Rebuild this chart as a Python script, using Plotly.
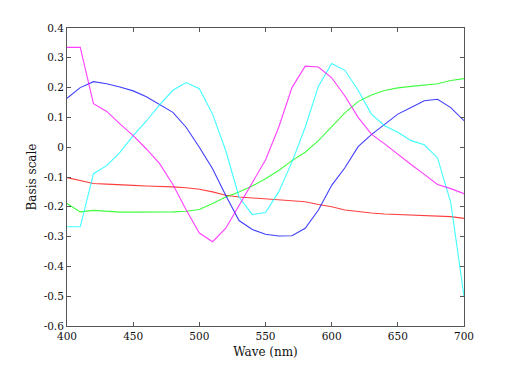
import plotly.graph_objects as go

wave = list(range(400, 701, 10))

red = [-0.102, -0.111, -0.122, -0.124, -0.127, -0.128, -0.130, -0.131, -0.133, -0.136,
       -0.141, -0.150, -0.161, -0.167, -0.170, -0.175, -0.178, -0.180, -0.183, -0.192,
       -0.200, -0.211, -0.217, -0.221, -0.224, -0.226, -0.227, -0.228, -0.230, -0.233, -0.239]

green = [-0.189, -0.217, -0.212, -0.216, -0.218, -0.218, -0.218, -0.218, -0.217, -0.215,
         -0.209, -0.189, -0.167, -0.150, -0.130, -0.106, -0.078, -0.045, -0.017, 0.022,
         0.069, 0.115, 0.153, 0.175, 0.190, 0.199, 0.204, 0.208, 0.213, 0.224, 0.230]

blue = [0.164, 0.200, 0.220, 0.213, 0.202, 0.189, 0.169, 0.144, 0.117, 0.067,
        0.000, -0.072, -0.162, -0.246, -0.276, -0.292, -0.298, -0.297, -0.272, -0.211,
        -0.128, -0.069, 0.002, 0.042, 0.078, 0.111, 0.133, 0.156, 0.161, 0.133, 0.089]

cyan = [-0.267, -0.267, -0.089, -0.062, -0.017, 0.039, 0.088, 0.142, 0.191, 0.217,
        0.196, 0.111, -0.012, -0.167, -0.226, -0.219, -0.150, -0.050, 0.067, 0.205,
        0.281, 0.258, 0.191, 0.111, 0.072, 0.050, 0.022, 0.008, -0.036, -0.186, -0.500]

magenta = [0.335, 0.335, 0.146, 0.120, 0.078, 0.039, -0.006, -0.055, -0.125, -0.210,
           -0.288, -0.317, -0.272, -0.195, -0.122, -0.043, 0.067, 0.200, 0.272, 0.269,
           0.233, 0.172, 0.100, 0.044, 0.011, -0.025, -0.058, -0.091, -0.125, -0.139, -0.156]

series = [("red", red, "#ff0000"), ("green", green, "#00ff00"), ("blue", blue, "#0000ff"),
          ("cyan", cyan, "#00ffff"), ("magenta", magenta, "#ff00ff")]

x_ticks = [400, 450, 500, 550, 600, 650, 700]
y_ticks = [-0.6, -0.5, -0.4, -0.3, -0.2, -0.1, 0, 0.1, 0.2, 0.3, 0.4]
y_tick_text = ["-0.6", "-0.5", "-0.4", "-0.3", "-0.2", "-0.1", "0", "0.1", "0.2", "0.3", "0.4"]

fig = go.Figure()
for name, vals, col in series:
    fig.add_trace(go.Scatter(x=wave, y=vals, mode="lines", name=name,
                             line=dict(color=col, width=1.1), opacity=0.75))

font_family = "DejaVu Serif"
axis_common = dict(showline=True, linecolor="#555555", linewidth=1, mirror="ticks",
                   ticks="inside", ticklen=4, tickcolor="#555555", showgrid=False,
                   zeroline=False, tickfont=dict(family=font_family, size=10.5, color="#111111"))

fig.update_layout(
    width=512, height=369,
    margin=dict(l=67, r=48, t=28, b=41),
    paper_bgcolor="white", plot_bgcolor="white",
    showlegend=False,
    font=dict(family=font_family, color="#111111"),
    xaxis=dict(range=[400, 700], tickvals=x_ticks, ticktext=[str(v) for v in x_ticks],
               title=dict(text="Wave (nm)", font=dict(family=font_family, size=12), standoff=7),
               **axis_common),
    yaxis=dict(range=[-0.6, 0.4], tickvals=y_ticks, ticktext=y_tick_text,
               title=dict(text="Basis scale", font=dict(family=font_family, size=12), standoff=4),
               **axis_common),
)

fig.write_html("out.html", config={"displayModeBar": False},
               post_script="document.body.style.margin='0px';")
